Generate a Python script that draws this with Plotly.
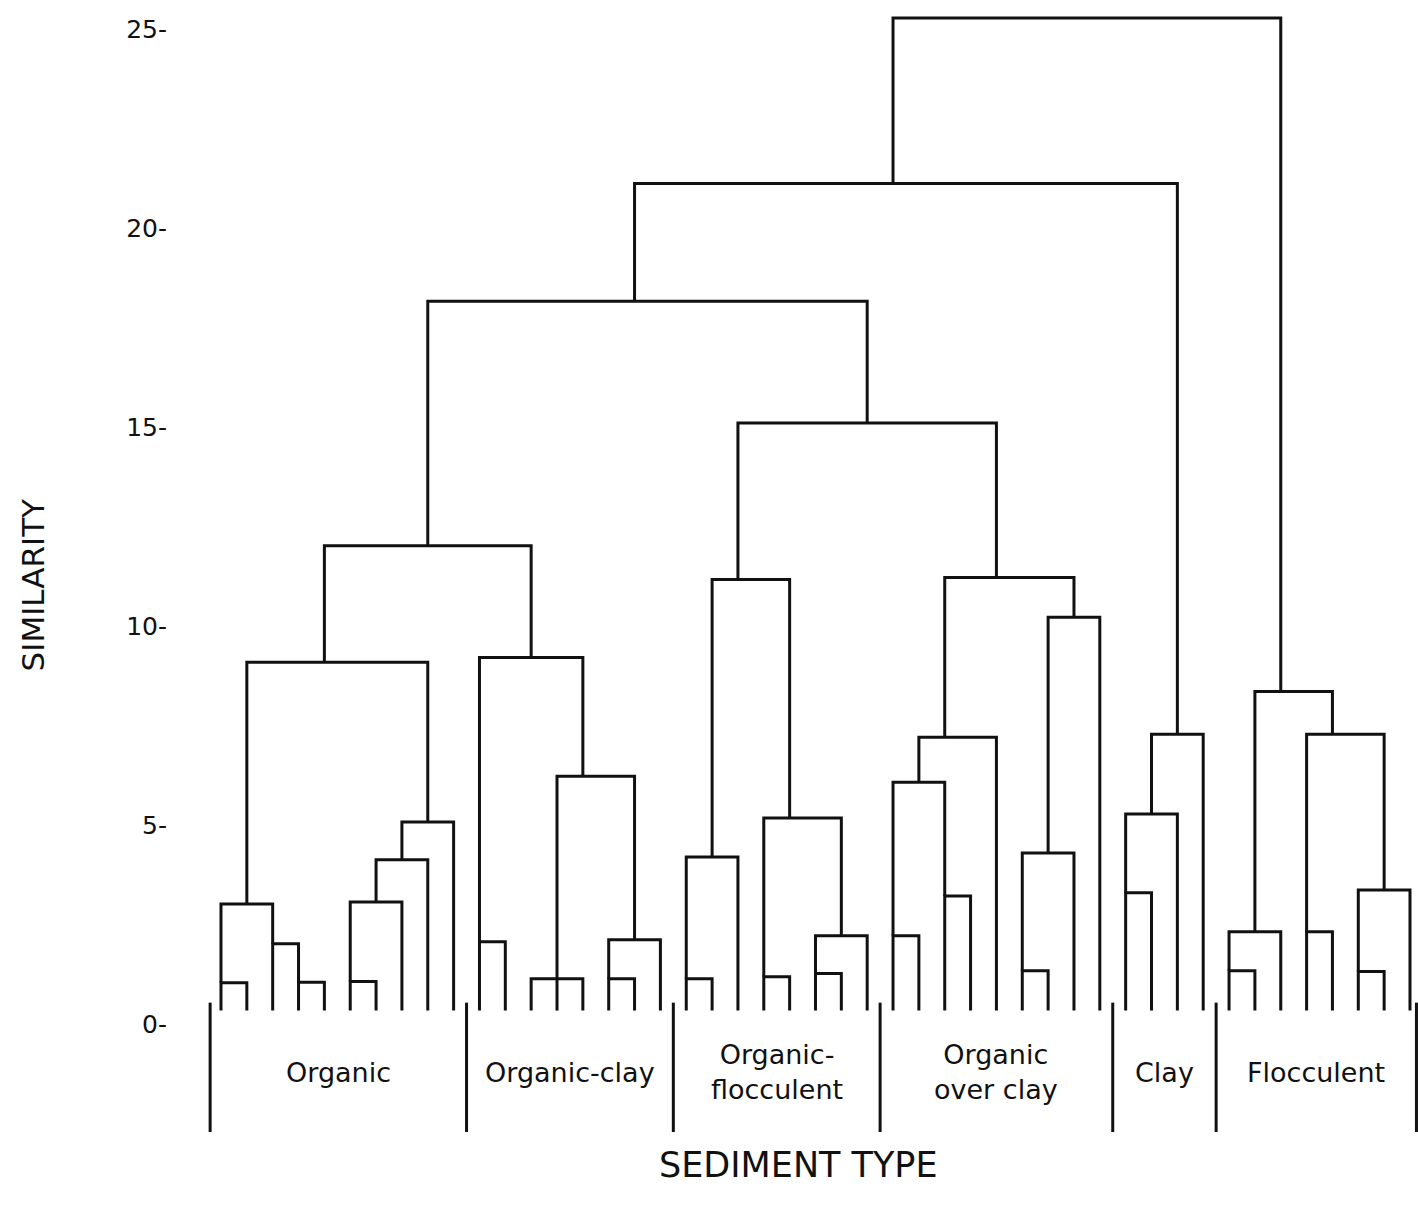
import math
import plotly.graph_objects as go

# ---------------- data ----------------
group_names = ["Organic", "Organic-clay", "Organic-<br>flocculent",
               "Organic<br>over clay", "Clay", "Flocculent"]
group_sizes = [10, 8, 8, 9, 4, 8]

# merges: children are leaf ids (0-46) or merge ids (47 + merge index)
merge_children = [
    [0, 1], [3, 4], [2, 48], [47, 49], [5, 6], [51, 7], [52, 8], [53, 9], [50, 54],
    [10, 11], [12, 13, 14], [15, 16], [58, 17], [57, 59], [56, 60], [55, 61],
    [18, 19], [63, 20], [21, 22], [23, 24], [66, 25], [65, 67], [64, 68],
    [26, 27], [28, 29], [70, 71], [72, 30], [31, 32], [74, 33], [75, 34],
    [73, 76], [69, 77], [62, 78],
    [35, 36], [80, 37], [81, 38], [79, 82],
    [39, 40], [84, 41], [42, 43], [44, 45], [87, 46], [86, 88], [85, 89], [83, 90],
]
merge_heights = [
    1.05, 1.06, 2.03, 3.03, 1.08, 3.08, 4.14, 5.09, 9.10,
    2.08, 1.15, 1.15, 2.13, 6.24, 9.22, 12.03,
    1.15, 4.21, 1.20, 1.28, 2.23, 5.19, 11.18,
    2.23, 3.23, 6.09, 7.22, 1.35, 4.31, 10.23,
    11.23, 15.11, 18.17,
    3.31, 5.29, 7.29, 21.13,
    1.35, 2.33, 2.33, 1.33, 3.38, 7.29, 8.37, 25.29,
]
y_tick_values = [0, 5, 10, 15, 20, 25]
y_tick_labels = ["0-", "5-", "10-", "15-", "20-", "25-"]

# ---------------- style ----------------
FONT = "DejaVu Sans"
INK = "#111111"
LEAF_BOTTOM = 0.35
SEP_TOP, SEP_BOTTOM = 0.55, -2.7
LABEL_Y = -1.2

# ---------------- dendrogram layout ----------------
n_leaves = sum(group_sizes)
stem_x = list(range(n_leaves))
top_y = [LEAF_BOTTOM] * n_leaves

lx, ly = [], []
for children, h in zip(merge_children, merge_heights):
    xs = [stem_x[c] for c in children]
    ys = [top_y[c] for c in children]
    # outer bracket
    lx += [xs[0], xs[0], xs[-1], xs[-1], None]
    ly += [ys[0], h, h, ys[-1], None]
    # any middle children
    for cx, cy in zip(xs[1:-1], ys[1:-1]):
        lx += [cx, cx, None]
        ly += [cy, h, None]
    stem_x.append(math.floor(sum(xs) / len(xs)))
    top_y.append(h)

# group separators
bounds = [0]
for s in group_sizes:
    bounds.append(bounds[-1] + s)
sep_x = [-0.42] + [b - 0.5 for b in bounds[1:-1]] + [n_leaves - 1 + 0.25]
sx, sy = [], []
for x in sep_x:
    sx += [x, x, None]
    sy += [SEP_TOP, SEP_BOTTOM, None]

fig = go.Figure()
fig.add_trace(go.Scatter(x=lx, y=ly, mode="lines",
                         line=dict(color=INK, width=3), hoverinfo="skip",
                         showlegend=False))
fig.add_trace(go.Scatter(x=sx, y=sy, mode="lines",
                         line=dict(color=INK, width=3), hoverinfo="skip",
                         showlegend=False))

for i, name in enumerate(group_names):
    cx = (sep_x[i] + sep_x[i + 1]) / 2
    fig.add_annotation(x=cx, y=LABEL_Y, xref="x", yref="y", text=name,
                       showarrow=False, xanchor="center", yanchor="middle",
                       font=dict(family=FONT, size=27, color=INK))

fig.add_annotation(x=-0.108, y=0.517, xref="paper", yref="paper",
                   text="SIMILARITY", textangle=-90, showarrow=False,
                   xanchor="center", yanchor="middle",
                   font=dict(family=FONT, size=31, color=INK))
fig.add_annotation(x=0.504, y=0.0388, xref="paper", yref="paper",
                   text="SEDIMENT TYPE", showarrow=False,
                   xanchor="center", yanchor="middle",
                   font=dict(family=FONT, size=35, color=INK))

fig.update_xaxes(visible=False, range=[-2.05, 46.31])
fig.update_yaxes(range=[-4.71, 25.74], tickvals=y_tick_values,
                 ticktext=y_tick_labels, showgrid=False, zeroline=False,
                 showline=False, ticks="",
                 tickfont=dict(family=FONT, size=25, color=INK))
fig.update_layout(width=1418, height=1212,
                  margin=dict(l=168, r=0, t=0, b=0, autoexpand=False),
                  paper_bgcolor="white", plot_bgcolor="white")
fig.write_html("out.html")
